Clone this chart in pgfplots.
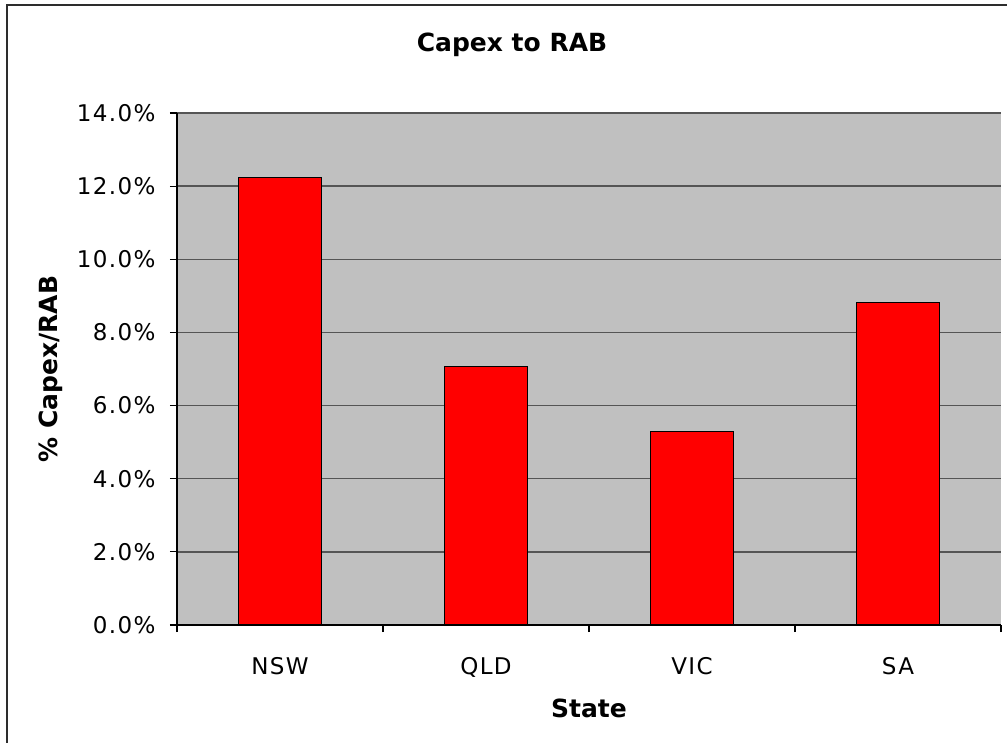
\documentclass[border=0pt]{standalone}
\usepackage{pgfplots}
\pgfplotsset{compat=1.18}
\usepackage{fontspec}
\setmainfont{DejaVu Sans}
\newfontfamily\tickfont[LetterSpace=6]{DejaVu Sans}
\definecolor{plotbg}{RGB}{192,192,192}
\definecolor{gridc}{RGB}{85,85,85}
\begin{document}
\begin{tikzpicture}[x=1pt,y=1pt]
\useasboundingbox (0,0) rectangle (1007,742);
\draw[line width=2pt,color={rgb,255:red,45;green,45;blue,45}] (6.5,-5) -- (6.5,737) -- (1012,737);
\node[anchor=base,font=\fontsize{25}{30}\selectfont\bfseries] at (512,690) {Capex to RAB};
\node[anchor=base,rotate=90,font=\fontsize{25}{30}\selectfont\bfseries] at (57,373) {\% Capex/RAB};
\begin{axis}[
  at={(177pt,117pt)}, anchor=south west,
  scale only axis, width=824pt, height=512pt,
  xmin=-0.5, xmax=3.5, ymin=0, ymax=14,
  axis background/.style={fill=plotbg},
  axis x line=bottom, axis y line=left,
  axis line style={-, line width=1.2pt, black},
  ytick={0,2,...,14},
  yticklabels={0.0\%,2.0\%,4.0\%,6.0\%,8.0\%,10.0\%,12.0\%,14.0\%},
  xtick={0,1,2,3},
  xticklabels={NSW,QLD,VIC,SA},
  minor xtick={-0.5,0.5,1.5,2.5,3.5},
  tick align=outside,
  major x tick style={draw=none},
  minor tick length=7pt, major tick length=7pt,
  tick style={line width=1.2pt, black},
  ymajorgrids, grid style={line width=1.3pt, gridc},
  ticklabel style={font=\tickfont\fontsize{23}{27}\selectfont},
  xticklabel style={anchor=base, yshift=-42pt},
  yticklabel style={anchor=east, xshift=-11pt},
  xlabel={State},
  xlabel style={at={(rel axis cs:0.5,0)}, anchor=base, yshift=-92pt, font=\fontsize{25}{30}\selectfont\bfseries},
  clip=false,
]
\addplot[ybar, bar width=0.406, fill=red, draw=black, line width=1.3pt] coordinates {(0,12.23) (1,7.06) (2,5.30) (3,8.82)};
\end{axis}
\end{tikzpicture}
\end{document}
